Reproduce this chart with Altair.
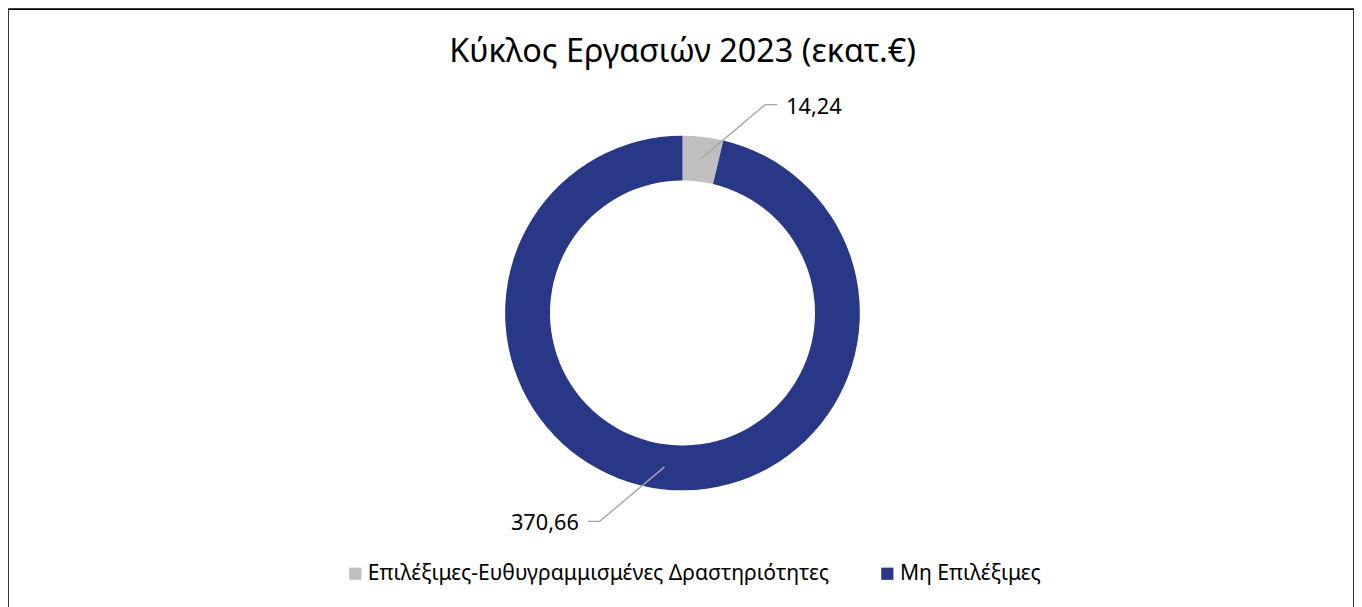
import math
import altair as alt
import pandas as pd

# ---- data ----
title_text = "Κύκλος Εργασιών 2023 (εκατ.€)"
categories = ["Επιλέξιμες-Ευθυγραμμισμένες Δραστηριότητες", "Μη Επιλέξιμες"]
values = [14.24, 370.66]
colors = ["#BFBFBF", "#283786"]

# ---- layout ----
W, H = 1351, 612
CX, CY = 677, 305
R_IN, R_OUT = 133, 178
R_MID = (R_IN + R_OUT) / 2
R_ELBOW = 225
ELBOW_SHIFT = 15  # degrees
TAIL = 12
FONT = "Noto Sans"

df = pd.DataFrame({"category": categories, "value": values, "idx": range(len(values))})
total = sum(values)

# leader lines + label anchors computed from the data
line_rows, text_rows = [], []
cum = 0.0
for i, (c, v) in enumerate(zip(categories, values)):
    mid = (cum + v / 2) / total * 360
    cum += v
    side = 1 if math.sin(math.radians(mid)) >= 0 else -1
    a0 = math.radians(mid)
    a1 = math.radians(mid + ELBOW_SHIFT)
    p0 = (R_MID * math.sin(a0), -R_MID * math.cos(a0))
    p1 = (R_ELBOW * math.sin(a1), -R_ELBOW * math.cos(a1))
    p2 = (p1[0] + side * TAIL, p1[1])
    for k, p in enumerate([p0, p1, p2]):
        line_rows.append({"cat": c, "k": k, "px": p[0], "py": p[1]})
    text_rows.append({"cat": c, "px": p2[0] + side * 9, "py": p2[1],
                      "label": f"{v:.2f}".replace(".", ","), "side": side})

lines = pd.DataFrame(line_rows)
texts = pd.DataFrame(text_rows)

xs = alt.Scale(domain=[-CX, W - CX], nice=False, zero=False)
ys = alt.Scale(domain=[-CY, H - CY], nice=False, zero=False, reverse=True)

arc = alt.Chart(df).mark_arc(innerRadius=R_IN, outerRadius=R_OUT).encode(
    theta=alt.Theta("value:Q", stack=True),
    order=alt.Order("idx:Q"),
    color=alt.Color(
        "category:N",
        scale=alt.Scale(domain=categories, range=colors),
        legend=alt.Legend(
            orient="none", legendX=338, legendY=556, direction="horizontal",
            title=None, labelFontSize=21.2, labelFont=FONT, labelColor="#000000",
            symbolType="square", symbolSize=150, symbolStrokeWidth=0,
            columnPadding=47, labelLimit=800, padding=0, labelOffset=2,
        ),
    ),
    x=alt.value(CX),
    y=alt.value(CY),
)

leader = alt.Chart(lines).mark_line(color="#A6A6A6", strokeWidth=1.4).encode(
    x=alt.X("px:Q", scale=xs, axis=None),
    y=alt.Y("py:Q", scale=ys, axis=None),
    detail="cat:N",
    order="k:Q",
)

lab_r = alt.Chart(texts).transform_filter("datum.side > 0").mark_text(
    align="left", baseline="middle", fontSize=21.8, font=FONT, color="#000000", dy=2
).encode(x=alt.X("px:Q", scale=xs), y=alt.Y("py:Q", scale=ys), text="label:N")

lab_l = alt.Chart(texts).transform_filter("datum.side < 0").mark_text(
    align="right", baseline="middle", fontSize=21.8, font=FONT, color="#000000", dy=2
).encode(x=alt.X("px:Q", scale=xs), y=alt.Y("py:Q", scale=ys), text="label:N")

title = alt.Chart(pd.DataFrame({"t": [title_text]})).mark_text(
    align="center", baseline="middle", fontSize=32.5, font=FONT, color="#000000"
).encode(x=alt.value(CX), y=alt.value(43), text="t:N")

chart = alt.layer(arc, leader, lab_r, lab_l, title).properties(
    width=W, height=H, padding=0, autosize=alt.AutoSizeParams(type="none")
).configure(
    background="white",
    view=alt.ViewConfig(stroke="#000000", strokeWidth=1.6),
)

chart.save("out.html", embed_options={"renderer": "svg", "actions": False})
